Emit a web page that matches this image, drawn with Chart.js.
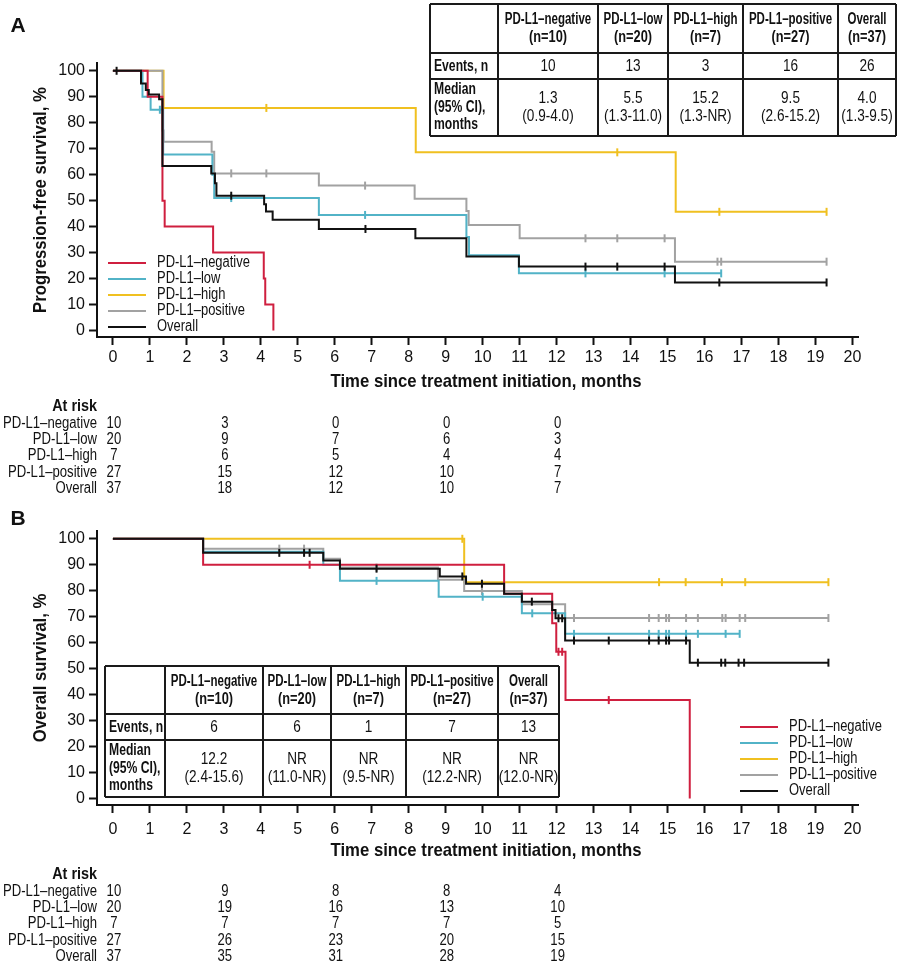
<!DOCTYPE html>
<html>
<head>
<meta charset="utf-8">
<script src="https://cdn.jsdelivr.net/npm/chart.js@4.4.1/dist/chart.umd.min.js"></script>
<style>
body{margin:0;background:#fff;}
#page{position:relative;width:900px;height:965px;overflow:hidden;}
canvas{position:absolute;left:0;}
</style>
</head>
<body>
<div id="page">
  <canvas id="pfs" width="900" height="495" style="top:0"></canvas>
  <canvas id="os" width="900" height="470" style="top:495px"></canvas>
</div>
<script>
// groups and axes
const groupNames = ['PD-L1–negative', 'PD-L1–low', 'PD-L1–high', 'PD-L1–positive', 'Overall'];
const groupN = [10, 20, 7, 27, 37];
const groupColors = ['#cf1f3f', '#52b3c7', '#f0c020', '#a2a2a2', '#111111'];
const xTicks = [0,1,2,3,4,5,6,7,8,9,10,11,12,13,14,15,16,17,18,19,20];
const yTicks = [0,10,20,30,40,50,60,70,80,90,100];
const riskTimes = [0, 3, 6, 9, 12];

// panel A: progression-free survival (time, survival %, censor times)
const pfsNegT = [0, 0.94, 1.34, 1.40, 2.71, 4.08, 4.12, 4.34];
const pfsNegS = [100, 90, 50, 40, 30, 20, 10, 0];
const pfsNegC = [];
const pfsLowT = [0, 0.80, 1.02, 1.36, 2.69, 2.74, 5.57, 9.56, 9.63, 10.98, 16.45];
const pfsLowS = [100, 90, 85, 67.8, 60, 51, 44.5, 36, 29, 22, 22];
const pfsLowC = [1.27, 3.2, 6.82, 12.78, 14.92, 16.45];
const pfsHighT = [0, 1.37, 8.19, 15.22, 19.3];
const pfsHighS = [100, 85.7, 68.6, 45.7, 45.7];
const pfsHighC = [4.15, 13.64, 16.4, 19.3];
const pfsPosT = [0, 1.34, 1.37, 2.67, 2.74, 5.57, 8.16, 9.56, 9.62, 11.0, 15.2, 19.3];
const pfsPosS = [100, 77, 72.7, 68.8, 60.5, 55.8, 50.7, 46, 40.6, 35.5, 26.5, 26.5];
const pfsPosC = [3.2, 4.15, 6.82, 12.78, 13.64, 14.92, 16.35, 16.45, 19.3];
const pfsAllT = [0, 0.76, 0.89, 0.97, 1.25, 1.34, 2.66, 2.76, 2.80, 4.09, 4.14, 4.32, 5.57, 8.18, 9.56, 10.98, 15.2, 19.3];
const pfsAllS = [100, 95.1, 92.6, 90.9, 89, 63.3, 60.5, 56.7, 51.9, 48.6, 45.8, 42.6, 39.1, 35.5, 28.5, 24.6, 18.5, 18.5];
const pfsAllC = [0.1, 3.2, 6.83, 12.78, 13.64, 14.92, 16.4, 19.3];

const pfsRiskNeg = [10, 3, 0, 0, 0];
const pfsRiskLow = [20, 9, 7, 6, 3];
const pfsRiskHigh = [7, 6, 5, 4, 4];
const pfsRiskPos = [27, 15, 12, 10, 7];
const pfsRiskAll = [37, 18, 12, 10, 7];

const pfsEvents = [10, 13, 3, 16, 26];
const pfsMedian = ['1.3', '5.5', '15.2', '9.5', '4.0'];
const pfsCI = ['(0.9-4.0)', '(1.3-11.0)', '(1.3-NR)', '(2.6-15.2)', '(1.3-9.5)'];

// panel B: overall survival
const osNegT = [0, 2.44, 10.58, 11.88, 11.99, 12.24, 15.6];
const osNegS = [100, 90, 78.8, 67.5, 56.5, 37.9, 0];
const osNegC = [5.32, 12.05, 12.15, 13.41];
const osLowT = [0, 2.44, 5.69, 6.14, 8.81, 11.06, 12.23, 16.95];
const osLowS = [100, 95, 90, 83.8, 77.7, 71.3, 63.4, 63.4];
const osLowC = [7.13, 10.0, 11.34, 12.47, 14.5, 14.76, 14.96, 15.04, 15.5, 15.82, 16.57, 16.95];
const osHighT = [0, 9.5, 19.35];
const osHighS = [100, 83.3, 83.3];
const osHighC = [9.45, 14.77, 15.49, 16.47, 17.1, 19.35];
const osPosT = [0, 2.44, 5.69, 6.14, 8.79, 9.5, 11.06, 12.23, 19.35];
const osPosS = [100, 96.2, 92.3, 88.9, 84.2, 79.9, 74.8, 69.5, 69.5];
const osPosC = [4.5, 5.17, 7.13, 9.98, 12.47, 14.5, 14.76, 14.96, 15.04, 15.5, 15.82, 16.48, 16.57, 16.95, 17.1, 19.35];
const osAllT = [0, 2.44, 5.69, 6.14, 8.84, 9.55, 10.58, 11.06, 11.88, 11.97, 12.23, 15.6, 19.35];
const osAllS = [100, 94.6, 91.6, 88.5, 85.5, 82.7, 78.8, 75.8, 72.6, 69.4, 60.8, 52.3, 52.3];
const osAllC = [4.5, 5.17, 5.32, 7.13, 9.45, 9.98, 11.33, 12.05, 12.15, 12.47, 13.41, 14.5, 14.76, 14.96, 15.04, 15.5, 15.82, 16.45, 16.56, 16.92, 17.07, 19.35];

const osRiskNeg = [10, 9, 8, 8, 4];
const osRiskLow = [20, 19, 16, 13, 10];
const osRiskHigh = [7, 7, 7, 7, 5];
const osRiskPos = [27, 26, 23, 20, 15];
const osRiskAll = [37, 35, 31, 28, 19];

const osEvents = [6, 6, 1, 7, 13];
const osMedian = ['12.2', 'NR', 'NR', 'NR', 'NR'];
const osCI = ['(2.4-15.6)', '(11.0-NR)', '(9.5-NR)', '(12.2-NR)', '(12.0-NR)'];

const FAMILY = '"Liberation Sans", Arial, sans-serif';
Chart.defaults.font.family = FAMILY;
Chart.defaults.color = '#111';

// survival value at time t for a step curve
function stepAt(T, S, t){
    let v = S[0];
    for(let i = 0; i < T.length; i++){
        if(T[i] <= t) v = S[i];
    }
    return v;
}

// condensed text: the original uses a narrow face, so squeeze horizontally
function txt(ctx, s, x, y, font, align, sx){
    ctx.save();
    ctx.font = font + ' ' + FAMILY;
    ctx.textAlign = align;
    ctx.textBaseline = 'middle';
    ctx.translate(x, y);
    ctx.scale(sx, 1);
    ctx.fillText(s, 0, 0);
    ctx.restore();
}

// draw order: overall on top, then negative, low, positive, high
const drawOrder = [1, 2, 4, 3, 0];

function buildDatasets(curves){
    let sets = [];
    curves.forEach((c, i) => {
        sets.push({
            data: c.T.map((t, j) => ({x: t, y: c.S[j]})),
            stepped: 'before',
            borderColor: groupColors[i],
            borderWidth: 2,
            pointRadius: 0,
            fill: false,
            clip: false,
            order: drawOrder[i]
        });
        sets.push({
            data: c.C.map(t => ({x: t, y: stepAt(c.T, c.S, t)})),
            showLine: false,
            pointStyle: 'line',
            pointRotation: 90,
            pointRadius: 4,
            pointBorderWidth: 2,
            pointBorderColor: groupColors[i],
            borderColor: groupColors[i],
            clip: false,
            order: drawOrder[i]
        });
    });
    return sets;
}

function drawTable(ctx, tb){
    const xs = [tb.left];
    tb.colW.forEach(w => xs.push(xs[xs.length - 1] + w));
    const ys = [tb.top];
    tb.rowH.forEach(h => ys.push(ys[ys.length - 1] + h));
    const W = xs[xs.length - 1], H = ys[ys.length - 1];
    ctx.save();
    ctx.fillStyle = '#fff';
    ctx.fillRect(tb.left, tb.top, W - tb.left, H - tb.top);
    ctx.strokeStyle = '#1a1a1a';
    ctx.lineWidth = 2;
    ctx.beginPath();
    xs.forEach(x => { ctx.moveTo(x, tb.top); ctx.lineTo(x, H); });
    ys.forEach(y => { ctx.moveTo(tb.left, y); ctx.lineTo(W, y); });
    ctx.stroke();
    ctx.fillStyle = '#111';
    const cy0 = (ys[0] + ys[1]) / 2, cy1 = (ys[1] + ys[2]) / 2, cy2 = (ys[2] + ys[3]) / 2;
    groupNames.forEach((g, i) => {
        const cx = (xs[i + 1] + xs[i + 2]) / 2;
        txt(ctx, g, cx, cy0 - 8.5, 'bold 16px', 'center', 0.72);
        txt(ctx, '(n=' + groupN[i] + ')', cx, cy0 + 9.5, 'bold 16px', 'center', 0.8);
        txt(ctx, String(tb.events[i]), cx, cy1 + 1, '16px', 'center', 0.85);
        txt(ctx, tb.medians[i], cx, cy2 - 8.5, '16px', 'center', 0.85);
        txt(ctx, tb.cis[i], cx, cy2 + 9.5, '16px', 'center', 0.85);
    });
    txt(ctx, 'Events, n', tb.left + 4, cy1 + 1, 'bold 16px', 'left', 0.76);
    txt(ctx, 'Median', tb.left + 4, cy2 - 17.5, 'bold 16px', 'left', 0.76);
    txt(ctx, '(95% CI),', tb.left + 4, cy2, 'bold 16px', 'left', 0.76);
    txt(ctx, 'months', tb.left + 4, cy2 + 17.5, 'bold 16px', 'left', 0.76);
    ctx.restore();
}

const decor = {
    id: 'decor',
    afterDraw(chart, args, o){
        const ctx = chart.ctx;
        const a = chart.chartArea;
        const xs = chart.scales.x;
        ctx.save();
        ctx.fillStyle = '#111';

        // panel letter
        txt(ctx, o.letter, 18, o.letterY, 'bold 21px', 'center', 1);

        // axis titles
        txt(ctx, 'Time since treatment initiation, months', 486, o.xTitleY, 'bold 19px', 'center', 0.88);
        ctx.save();
        ctx.translate(41, (a.top + a.bottom) / 2);
        ctx.rotate(-Math.PI / 2);
        txt(ctx, o.yTitle, 0, 0, 'bold 19px', 'center', 0.88);
        ctx.restore();

        // at risk table
        txt(ctx, 'At risk', 97, o.riskY, 'bold 16px', 'right', 0.9);
        o.risk.forEach((row, r) => {
            const y = o.riskY + 16.3 * (r + 1);
            txt(ctx, groupNames[r], 97, y, '16px', 'right', 0.82);
            row.forEach((v, k) => txt(ctx, String(v), xs.getPixelForValue(riskTimes[k]) + 1, y, '16px', 'center', 0.82));
        });

        // legend
        groupNames.forEach((name, i) => {
            const y = o.legY + 16 * i;
            ctx.strokeStyle = groupColors[i];
            ctx.lineWidth = 2;
            ctx.beginPath();
            ctx.moveTo(o.legX, y);
            ctx.lineTo(o.legX + 38, y);
            ctx.stroke();
            txt(ctx, name, o.legX + 49, y, '16px', 'left', 0.81);
        });

        drawTable(ctx, o.table);
        ctx.restore();
    }
};

function axisStyle(){
    return {
        type: 'linear',
        grid: {drawOnChartArea: false, drawTicks: true, tickLength: 8, color: '#111', tickColor: '#111', tickWidth: 2},
        border: {display: true, color: '#111', width: 2},
        ticks: {font: {size: 16}, color: '#111', maxRotation: 0, autoSkip: false}
    };
}

function kmChart(canvasId, curves, cfg){
    const xAxis = axisStyle();
    xAxis.min = -0.43;
    xAxis.max = 20.15;
    xAxis.ticks.padding = cfg.xTickPad;
    xAxis.afterBuildTicks = s => { s.ticks = xTicks.map(v => ({value: v})); };
    xAxis.afterFit = s => { s.height = cfg.xAxisHeight; };

    const yAxis = axisStyle();
    yAxis.min = -2.5;
    yAxis.max = 103;
    yAxis.ticks.padding = 4;
    yAxis.afterBuildTicks = s => { s.ticks = yTicks.map(v => ({value: v})); };
    yAxis.afterFit = s => { s.width = 97; };

    return new Chart(document.getElementById(canvasId).getContext('2d'), {
        type: 'line',
        data: {datasets: buildDatasets(curves)},
        options: {
            responsive: false,
            animation: false,
            events: [],
            layout: {padding: {left: 0, right: 42, top: cfg.top, bottom: 0}},
            scales: {x: xAxis, y: yAxis},
            plugins: {legend: {display: false}, tooltip: {enabled: false}, decor: cfg.decor}
        },
        plugins: [decor]
    });
}

kmChart('pfs', [
    {T: pfsNegT, S: pfsNegS, C: pfsNegC},
    {T: pfsLowT, S: pfsLowS, C: pfsLowC},
    {T: pfsHighT, S: pfsHighS, C: pfsHighC},
    {T: pfsPosT, S: pfsPosS, C: pfsPosC},
    {T: pfsAllT, S: pfsAllS, C: pfsAllC}
], {
    top: 63, xAxisHeight: 495 - 337, xTickPad: 3,
    decor: {letter: 'A', letterY: 26, yTitle: 'Progression-free survival, %', xTitleY: 382,
        riskY: 407, risk: [pfsRiskNeg, pfsRiskLow, pfsRiskHigh, pfsRiskPos, pfsRiskAll],
        legX: 108, legY: 263,
        table: {left: 430, top: 4, colW: [68, 100, 70, 75, 95, 58], rowH: [49, 26, 57],
            events: pfsEvents, medians: pfsMedian, cis: pfsCI}}
});

kmChart('os', [
    {T: osNegT, S: osNegS, C: osNegC},
    {T: osLowT, S: osLowS, C: osLowC},
    {T: osHighT, S: osHighS, C: osHighC},
    {T: osPosT, S: osPosS, C: osPosC},
    {T: osAllT, S: osAllS, C: osAllC}
], {
    top: 36, xAxisHeight: 470 - 310, xTickPad: 7,
    decor: {letter: 'B', letterY: 24, yTitle: 'Overall survival, %', xTitleY: 356,
        riskY: 380, risk: [osRiskNeg, osRiskLow, osRiskHigh, osRiskPos, osRiskAll],
        legX: 740, legY: 232,
        table: {left: 105, top: 171, colW: [60, 98, 68, 75, 92, 61], rowH: [48, 26, 57],
            events: osEvents, medians: osMedian, cis: osCI}}
});
</script>
</body>
</html>
